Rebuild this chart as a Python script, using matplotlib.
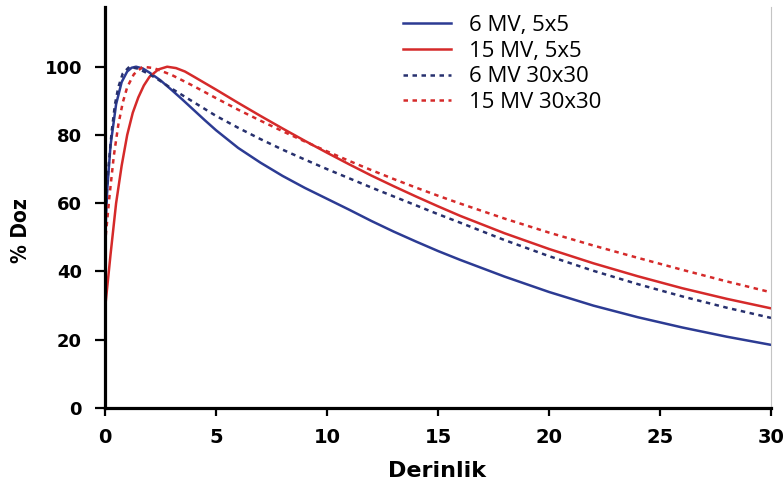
import numpy as np
import matplotlib
matplotlib.use('Agg')
import matplotlib.pyplot as plt

# derinlik (cm) ve % doz degerleri
x_6_5 = [0, 0.1, 0.25, 0.5, 0.75, 1.0, 1.2, 1.4, 1.7, 2, 2.5, 3, 3.5, 4, 4.5, 5, 6, 7, 8, 9, 10,
         11, 12, 13, 14, 15, 16, 18, 20, 22, 24, 26, 28, 30]
y_6_5 = [49, 64, 77, 89, 95.5, 98.6, 99.7, 100, 99.5, 98.3, 96, 93.2, 90.3, 87.3, 84.3, 81.4, 76.2, 71.9, 68, 64.5, 61.3,
         58.1, 54.8, 51.7, 48.8, 46, 43.4, 38.5, 34, 30, 26.6, 23.6, 20.9, 18.5]

x_15_5 = [0, 0.25, 0.5, 0.75, 1.0, 1.25, 1.5, 1.75, 2, 2.4, 2.8, 3.2, 3.6, 4, 5, 6, 7, 8, 9, 10,
          11, 12, 13, 14, 15, 16, 18, 20, 22, 24, 26, 28, 30]
y_15_5 = [29, 45, 60, 71, 80, 86.5, 91, 94.5, 97, 99.2, 100, 99.6, 98.6, 97.1, 93.3, 89.4, 85.6, 81.9, 78.3, 74.8,
          71.4, 68.1, 65, 62, 59.1, 56.3, 51.2, 46.6, 42.4, 38.6, 35.1, 32, 29.2]

x_6_30 = [0, 0.15, 0.3, 0.45, 0.6, 0.8, 1.1, 1.5, 2, 2.5, 3, 4, 5, 6, 7, 8, 9, 10,
          11, 12, 13, 14, 15, 16, 18, 20, 22, 24, 26, 28, 30]
y_6_30 = [55, 70, 81, 89, 94, 98, 100, 99.4, 97.8, 95.8, 93.6, 89.6, 85.6, 82.1, 78.8, 75.7, 72.8, 70,
          67.3, 64.6, 62, 59.4, 56.8, 54.3, 49.2, 44.5, 40.2, 36.3, 32.7, 29.4, 26.4]

x_15_30 = [0, 0.2, 0.4, 0.6, 0.8, 1.0, 1.3, 1.7, 2.2, 3, 4, 5, 6, 7, 8, 9, 10,
           11, 12, 13, 14, 15, 16, 18, 20, 22, 24, 26, 28, 30]
y_15_30 = [48, 62, 74, 83, 89.5, 94, 97.8, 100, 99.6, 97.6, 94.3, 90.8, 87.4, 84.2, 81.1, 78.1, 75.2,
           72.4, 69.7, 67.1, 64.6, 62.2, 59.9, 55.5, 51.4, 47.6, 44, 40.5, 37.1, 33.9]

labels = ['6 MV, 5x5', '15 MV, 5x5', '6 MV 30x30', '15 MV 30x30']

blue = '#2c3b93'
navy = '#27306e'
red = '#d52a2a'

fig = plt.figure(figsize=(7.84, 4.86), dpi=100)
ax = fig.add_axes([105/784, 1-408/486, (771-105)/784, (408-7)/486])

ax.plot(x_6_5, y_6_5, color=blue, lw=1.8, label=labels[0])
ax.plot(x_15_5, y_15_5, color=red, lw=1.8, label=labels[1])
ax.plot(x_6_30, y_6_30, color=navy, lw=1.8, ls=(0, (1.8, 1.8)), label=labels[2])
ax.plot(x_15_30, y_15_30, color=red, lw=1.8, ls=(0, (1.8, 1.8)), label=labels[3])

ax.set_xlim(0, 30)
ax.set_ylim(0, 117.5)
ax.set_xticks([0, 5, 10, 15, 20, 25, 30])
ax.set_yticks([0, 20, 40, 60, 80, 100])

for s in ['left', 'bottom']:
    ax.spines[s].set_linewidth(2.3)
ax.spines['top'].set_visible(False)
ax.spines['right'].set_color('#c4c4c4')
ax.spines['right'].set_linewidth(0.8)

ax.tick_params(axis='y', length=7.5, width=1.6, pad=9)
ax.tick_params(axis='x', length=5.5, width=1.6, pad=9)
for t in ax.get_yticklabels():
    t.set_fontweight('bold')
    t.set_fontsize(13)
for t in ax.get_xticklabels():
    t.set_fontweight('bold')
    t.set_fontsize(14)

fig.text(437/784, 1-471/486, 'Derinlik', ha='center', va='center',
         fontsize=16, fontweight='bold')
fig.text(21/784, 1-231/486, '% Doz', ha='center', va='center', rotation=90,
         fontsize=15, fontweight='bold', fontstretch='condensed')

leg = ax.legend(loc='upper left', bbox_to_anchor=(403/784, 1-15/486),
                bbox_transform=fig.transFigure, frameon=False, borderpad=0,
                borderaxespad=0, handlelength=2.16, handletextpad=0.8,
                labelspacing=0.21, prop={'family': 'Open Sans', 'size': 16})

fig.savefig('out.png', dpi=100)
